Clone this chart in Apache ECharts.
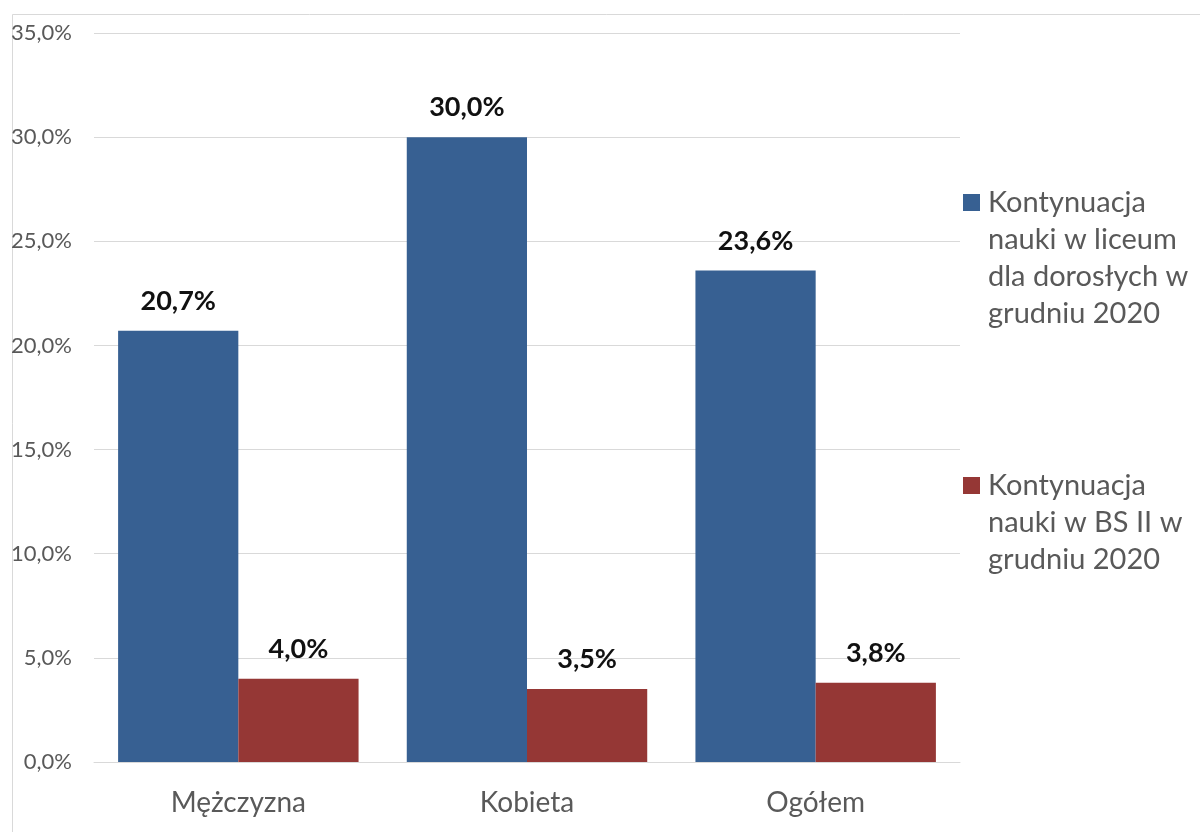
<!DOCTYPE html>
<html>
<head>
<meta charset="utf-8">
<script src="https://cdn.jsdelivr.net/npm/echarts@6/dist/echarts.min.js"></script>
<style>html,body{margin:0;padding:0;background:#fff}#c{width:1200px;height:832px}</style>
</head>
<body>
<div id="c"></div>
<script>
const categories = ['Mężczyzna', 'Kobieta', 'Ogółem'];
const seriesNames = ['Kontynuacja nauki w liceum dla dorosłych w grudniu 2020', 'Kontynuacja nauki w BS II w grudniu 2020'];
const legendLines = [
  ['Kontynuacja', 'nauki w liceum', 'dla dorosłych w', 'grudniu 2020'],
  ['Kontynuacja', 'nauki w BS II w', 'grudniu 2020']
];
const liceumValues = [20.7, 30.0, 23.6];
const bsValues = [4.0, 3.5, 3.8];
const colors = ['#376092', '#953735'];

const fmt = v => v.toFixed(1).replace('.', ',') + '%';
const FONT = 'Lato';
const LH = 37;
// prepend blank lines so that the first text line sits beside the legend square
const legendText = lines => Array(lines.length - 1).fill(' ').concat(lines).join('\n');

const chart = echarts.init(document.getElementById('c'));
chart.setOption({
  backgroundColor: '#fff',
  animation: false,
  textStyle: { fontFamily: FONT },
  graphic: [{
    type: 'rect', left: 10, top: 12, silent: true,
    shape: { x: 0, y: 0, width: 1200, height: 840 },
    style: { fill: 'none', stroke: '#d9d9d9', lineWidth: 1 }
  }],
  grid: { left: 94, right: 240, top: 33, bottom: 70 },
  legend: {
    orient: 'vertical', left: 958, top: 68,
    itemWidth: 17, itemHeight: 17, itemGap: 61,
    icon: 'rect',
    data: seriesNames,
    formatter: name => legendText(legendLines[seriesNames.indexOf(name)]),
    textStyle: { fontFamily: FONT, fontSize: 29, color: '#595959', lineHeight: LH, padding: [0, 0, 0, 3] }
  },
  xAxis: {
    type: 'category', data: categories,
    axisLine: { show: true, lineStyle: { color: '#d9d9d9' } },
    axisTick: { show: false },
    axisLabel: { fontFamily: FONT, fontSize: 28, color: '#595959', margin: 27 }
  },
  yAxis: {
    type: 'value', min: 0, max: 35, interval: 5,
    axisLine: { show: false }, axisTick: { show: false },
    splitLine: { lineStyle: { color: '#d9d9d9' } },
    axisLabel: { fontFamily: FONT, fontSize: 22, color: '#595959', margin: 22, formatter: fmt }
  },
  series: [
    { name: seriesNames[0], type: 'bar', data: liceumValues, barGap: '0%', barCategoryGap: '16.7%',
      itemStyle: { color: colors[0] },
      label: { show: true, position: 'top', distance: 16, formatter: p => fmt(p.value), fontFamily: FONT, fontSize: 27, fontWeight: 'bold', color: '#111' } },
    { name: seriesNames[1], type: 'bar', data: bsValues, barGap: '0%', barCategoryGap: '16.7%',
      itemStyle: { color: colors[1] },
      label: { show: true, position: 'top', distance: 16, formatter: p => fmt(p.value), fontFamily: FONT, fontSize: 27, fontWeight: 'bold', color: '#111' } }
  ]
});
</script>
</body>
</html>
